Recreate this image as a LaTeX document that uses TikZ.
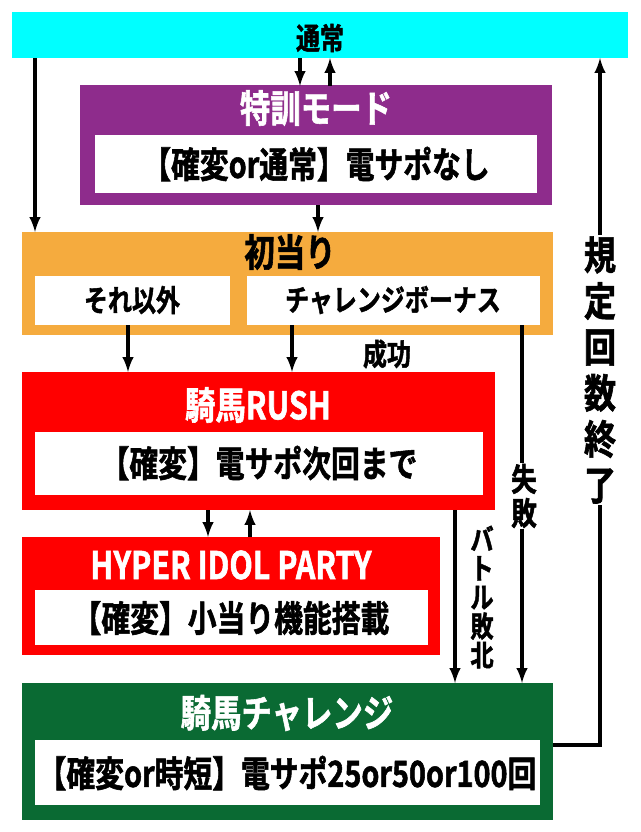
\documentclass[tikz,border=0pt]{standalone}
\usepackage{fontspec}
\newfontfamily\jp{Noto Sans CJK JP Bold}[FakeStretch=0.8,FakeBold=1.5]
\usetikzlibrary{calc}
\definecolor{cyanbar}{HTML}{00FFFF}
\definecolor{tokkun}{HTML}{8E2C8C}
\definecolor{hatsu}{HTML}{F5AB3E}
\definecolor{rush}{HTML}{FF0000}
\definecolor{chal}{HTML}{0A6A33}
\tikzset{
  flow/.style={line width=4pt, -latex},
  title/.style={font=\jp\fontsize{38}{38}\selectfont, text=white},
  inner/.style={font=\jp\fontsize{36}{36}\selectfont},
  sub/.style={font=\jp\fontsize{30}{30}\selectfont},
  vlabel/.style={font=\jp\fontsize{32}{34}\selectfont, align=center, inner sep=1pt}
}
\begin{document}
\begin{tikzpicture}[x=1pt,y=-1pt]
            \useasboundingbox (0,0) rectangle (640,832);
            \fill[white] (0,0) rectangle (640,832);

            % boxes
            \fill[cyanbar] (12,12) rectangle (628,58);
            \node[sub] (norm) at (320,38) {通常};
            \fill[tokkun] (80,85) rectangle (552,205);
            \node[title] (tok) at (316,108) {特訓モード};
            \fill[white] (95,135) rectangle (537,193);
            \node[inner] (toki) at (316,164) {【確変or通常】電サポなし};

            \fill[hatsu] (22,232) rectangle (553,335);
            \node[title, text=black] (hit) at (290,252) {初当り};
            \fill[white] (35,276) rectangle (230,325);
            \node[sub] (other) at (132,300) {それ以外};
            \fill[white] (247,276) rectangle (540,325);
            \node[sub] (bonus) at (393,300) {チャレンジボーナス};

            \fill[rush] (22,372) rectangle (495,510);
            \node[title] (rushT) at (258,405) {騎馬RUSH};
            \fill[white] (35,432) rectangle (483,495);
            \node[inner] (rushI) at (259,463) {【確変】電サポ次回まで};

            \fill[rush] (22,537) rectangle (440,655);
            \node[title] (hyp) at (231,565) {HYPER IDOL PARTY};
            \fill[white] (35,590) rectangle (428,645);
            \node[inner] (hypI) at (231,618) {【確変】小当り機能搭載};

            \fill[chal] (22,683) rectangle (553,820);
            \node[title] (chT) at (287,713) {騎馬チャレンジ};
            \fill[white] (35,740) rectangle (540,805);
            \node[inner] (chI) at (287,773) {【確変or時短】電サポ25or50or100回};

            % connectors
            \draw[flow] (300,58) -- (300,86);
            \draw[flow] (330,86) -- (330,58);
            \draw[flow] (35,58) -- (35,232);
            \draw[flow] (318,205) -- (318,232);
            \draw[flow] (128,325) -- (128,372);
            \draw[flow] (292,325) -- (292,372);
            \node[sub] (succ) at (387,354) {成功};
            \draw[flow] (522,325) -- (522,683);
            \node[vlabel, fill=white] (fail) at (524,496) {失\\敗};
            \draw[flow] (455,510) -- (455,683);
            \draw[flow] (208,510) -- (208,537);
            \draw[flow] (250,537) -- (250,510);
            \node[vlabel, fill=white, font=\jp\fontsize{29}{29}\selectfont] (lose) at (482,597) {バ\\ト\\ル\\敗\\北};
            \draw[line width=4pt] (553,745) -- (600,745) -- (600,230);
            \draw[flow] (600,240) -- (600,58);
            \node[vlabel, fill=white, font=\jp\fontsize{40}{46}\selectfont] (limit) at (600,370) {規\\定\\回\\数\\終\\了};
        \end{tikzpicture}
\end{document}
